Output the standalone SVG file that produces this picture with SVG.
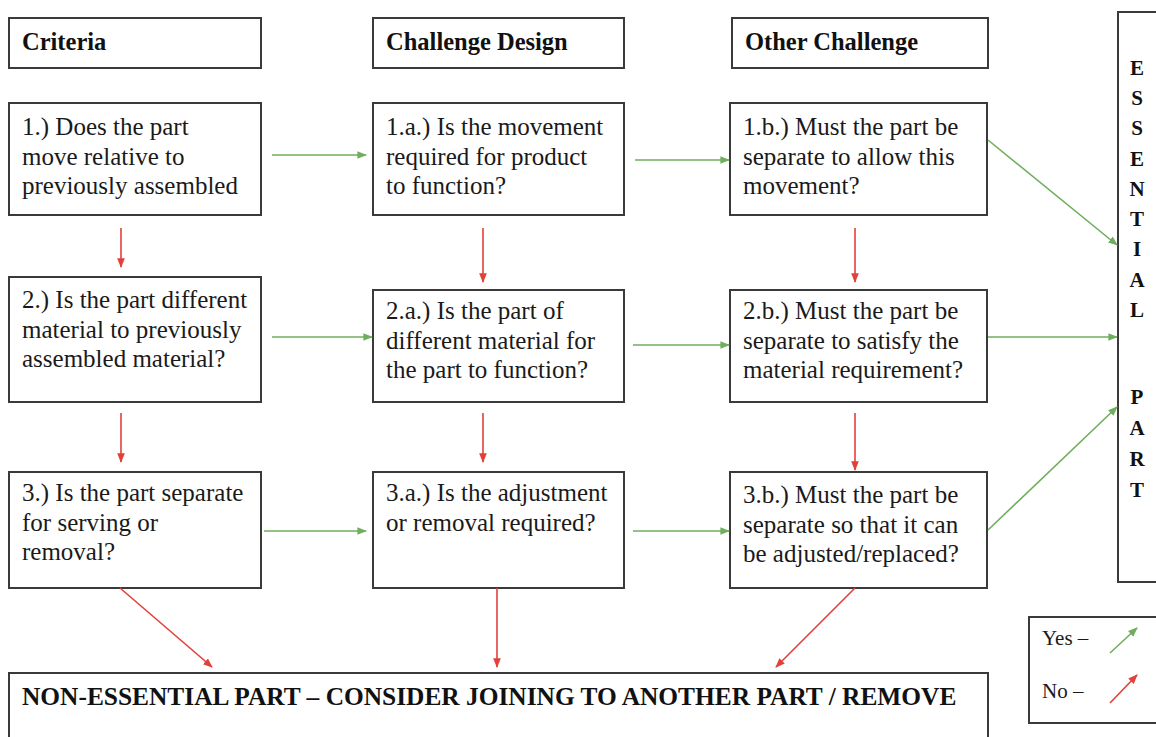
<svg xmlns="http://www.w3.org/2000/svg" width="1156" height="737" viewBox="0 0 1156 737">
<style>
.box{fill:#fff;stroke:#3a3a3a;stroke-width:2}
.t{font-family:'Liberation Serif','Tinos','DejaVu Serif',serif;font-size:25px;fill:#1a1a1a}
.h{font-family:'Liberation Serif','Tinos','DejaVu Serif',serif;font-size:24.5px;font-weight:bold;fill:#111}
.v{font-family:'Liberation Serif','Tinos','DejaVu Serif',serif;font-size:21px;font-weight:bold;fill:#111;text-anchor:middle}
.lg{font-family:'Liberation Serif','Tinos','DejaVu Serif',serif;font-size:21px;fill:#1a1a1a}
.g{stroke:#6fae5c;stroke-width:1.6;fill:none;marker-end:url(#ag)}
.r{stroke:#e2403a;stroke-width:1.6;fill:none;marker-end:url(#ar)}
</style>
<defs>
<marker id="ag" viewBox="0 0 10 10" refX="9" refY="5" markerWidth="6" markerHeight="6" markerUnits="strokeWidth" orient="auto"><path d="M0,1 L10,5 L0,9 z" fill="#6fae5c"/></marker>
<marker id="ar" viewBox="0 0 10 10" refX="9" refY="5" markerWidth="6" markerHeight="6" markerUnits="strokeWidth" orient="auto"><path d="M0,1 L10,5 L0,9 z" fill="#e2403a"/></marker>
</defs>
<rect width="1156" height="737" fill="#fff"/>
<g id="hdr-criteria"><rect class="box" x="9" y="18" width="252" height="50"/><text class="h" x="22" y="50">Criteria</text></g>
<g id="hdr-design"><rect class="box" x="373" y="18" width="251" height="50"/><text class="h" x="386" y="50">Challenge Design</text></g>
<g id="hdr-other"><rect class="box" x="732" y="18" width="256" height="50"/><text class="h" x="745" y="50">Other Challenge</text></g>
<g id="n1"><rect class="box" x="9" y="103" width="252" height="112"/><text class="t" x="22"><tspan x="22" y="135">1.) Does the part</tspan><tspan x="22" y="165">move relative to</tspan><tspan x="22" y="194">previously assembled</tspan></text></g>
<g id="n1a"><rect class="box" x="373" y="103" width="251" height="112"/><text class="t"><tspan x="386" y="135">1.a.) Is the movement</tspan><tspan x="386" y="165">required for product</tspan><tspan x="386" y="194">to function?</tspan></text></g>
<g id="n1b"><rect class="box" x="730" y="103" width="257" height="112"/><text class="t"><tspan x="743" y="135">1.b.) Must the part be</tspan><tspan x="743" y="165">separate to allow this</tspan><tspan x="743" y="194">movement?</tspan></text></g>
<g id="n2"><rect class="box" x="9" y="277" width="252" height="125"/><text class="t"><tspan x="22" y="308">2.) Is the part different</tspan><tspan x="22" y="338">material to previously</tspan><tspan x="22" y="367">assembled material?</tspan></text></g>
<g id="n2a"><rect class="box" x="373" y="290" width="251" height="112"/><text class="t"><tspan x="386" y="319">2.a.) Is the part of</tspan><tspan x="386" y="349">different material for</tspan><tspan x="386" y="378">the part to function?</tspan></text></g>
<g id="n2b"><rect class="box" x="730" y="290" width="257" height="112"/><text class="t"><tspan x="743" y="319">2.b.) Must the part be</tspan><tspan x="743" y="349">separate to satisfy the</tspan><tspan x="743" y="378">material requirement?</tspan></text></g>
<g id="n3"><rect class="box" x="9" y="472" width="252" height="116"/><text class="t"><tspan x="22" y="501">3.) Is the part separate</tspan><tspan x="22" y="531">for serving or</tspan><tspan x="22" y="560">removal?</tspan></text></g>
<g id="n3a"><rect class="box" x="373" y="472" width="251" height="116"/><text class="t"><tspan x="386" y="501">3.a.) Is the adjustment</tspan><tspan x="386" y="531">or removal required?</tspan></text></g>
<g id="n3b"><rect class="box" x="730" y="472" width="257" height="116"/><text class="t"><tspan x="743" y="503">3.b.) Must the part be</tspan><tspan x="743" y="533">separate so that it can</tspan><tspan x="743" y="562">be adjusted/replaced?</tspan></text></g>
<g id="essential"><rect class="box" x="1118" y="12" width="50" height="570"/>
<text class="v"><tspan x="1137" y="75">E</tspan><tspan x="1137" y="105">S</tspan><tspan x="1137" y="135">S</tspan><tspan x="1137" y="166">E</tspan><tspan x="1137" y="196">N</tspan><tspan x="1137" y="226">T</tspan><tspan x="1137" y="256">I</tspan><tspan x="1137" y="287">A</tspan><tspan x="1137" y="317">L</tspan><tspan x="1137" y="404">P</tspan><tspan x="1137" y="435">A</tspan><tspan x="1137" y="466">R</tspan><tspan x="1137" y="497">T</tspan></text></g>
<g id="nonessential"><rect class="box" x="9" y="673" width="979" height="80"/><text class="h" x="22" y="705" style="font-size:25.4px">NON-ESSENTIAL PART – CONSIDER JOINING TO ANOTHER PART / REMOVE</text></g>
<g id="legend"><rect class="box" x="1029" y="617" width="140" height="106"/>
<text class="lg" x="1042" y="645">Yes –</text>
<text class="lg" x="1042" y="698">No –</text>
<line class="g" x1="1110" y1="653" x2="1137" y2="628"/>
<line class="r" x1="1110" y1="703" x2="1137" y2="675"/></g>
<g id="connectors">
<line class="g" x1="272" y1="155" x2="366" y2="155"/>
<line class="g" x1="635" y1="160" x2="729" y2="160"/>
<line class="g" x1="988" y1="140" x2="1117" y2="245"/>
<line class="g" x1="272" y1="337" x2="372" y2="337"/>
<line class="g" x1="633" y1="345" x2="729" y2="345"/>
<line class="g" x1="988" y1="337" x2="1117" y2="337"/>
<line class="g" x1="264" y1="531" x2="366" y2="531"/>
<line class="g" x1="633" y1="531" x2="729" y2="531"/>
<line class="g" x1="988" y1="530" x2="1117" y2="407"/>
<line class="r" x1="121" y1="228" x2="121" y2="267"/>
<line class="r" x1="483" y1="228" x2="483" y2="282"/>
<line class="r" x1="855" y1="228" x2="855" y2="282"/>
<line class="r" x1="121" y1="413" x2="121" y2="462"/>
<line class="r" x1="483" y1="413" x2="483" y2="462"/>
<line class="r" x1="855" y1="413" x2="855" y2="470"/>
<line class="r" x1="120" y1="588" x2="212" y2="667"/>
<line class="r" x1="497" y1="588" x2="497" y2="667"/>
<line class="r" x1="855" y1="588" x2="776" y2="667"/>
</g>
</svg>
